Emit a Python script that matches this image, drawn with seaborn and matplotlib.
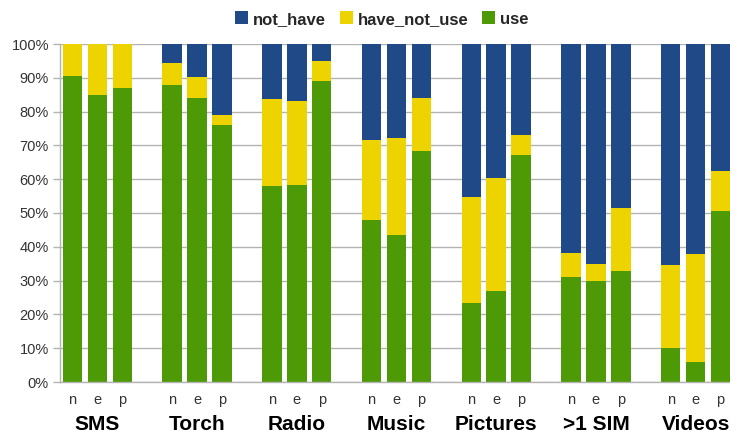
import matplotlib
matplotlib.use("Agg")
import matplotlib.pyplot as plt
import matplotlib.transforms as mtransforms
from matplotlib.patches import Patch
import seaborn as sns
import pandas as pd

groups = ["SMS", "Torch", "Radio", "Music", "Pictures", ">1 SIM", "Videos"]
subs = ["n", "e", "p"]
use = [90.5, 85.0, 87.0, 88.0, 84.1, 76.1, 57.9, 58.4, 89.0, 47.8, 43.5, 68.2,
       23.5, 26.8, 67.3, 31.2, 29.8, 32.7, 10.2, 6.0, 50.5]
have_not_use = [9.5, 15.0, 13.0, 6.3, 6.0, 3.0, 25.7, 24.8, 6.0, 23.9, 28.8, 15.9,
                31.2, 33.6, 5.9, 7.1, 5.0, 18.9, 24.5, 31.8, 11.8]
not_have = [0.0, 0.0, 0.0, 5.7, 9.9, 20.9, 16.4, 16.8, 5.0, 28.3, 27.7, 15.9,
            45.3, 39.6, 26.8, 61.7, 65.2, 48.4, 65.3, 62.2, 37.7]

colors = {"not_have": "#204a87", "have_not_use": "#edd400", "use": "#4e9a06"}

sns.set_theme(style="white")
plt.rcParams["font.family"] = ["Liberation Sans", "DejaVu Sans"]

# slot order with empty gap slots between groups
order = []
for gi, g in enumerate(groups):
    for s in subs:
        order.append(f"{g}|{s}")
    if gi < len(groups) - 1:
        order.append(f"gap{gi}")

rows = []
i = 0
for g in groups:
    for s in subs:
        rows.append({"slot": f"{g}|{s}", "use": use[i],
                     "use_hnu": use[i] + have_not_use[i],
                     "total": use[i] + have_not_use[i] + not_have[i]})
        i += 1
df = pd.DataFrame(rows)

fig = plt.figure(figsize=(7.3, 4.32), dpi=100)
ax = fig.add_axes([60 / 730, 1 - 382 / 432, 673 / 730, 338 / 432])

for col, c in [("total", colors["not_have"]), ("use_hnu", colors["have_not_use"]),
               ("use", colors["use"])]:
    sns.barplot(data=df, x="slot", y=col, order=order, color=c, saturation=1,
                width=0.78, ax=ax, errorbar=None, edgecolor="none", linewidth=0)

ax.set_ylim(0, 100)
ax.set_xlim(-0.5, len(order) - 0.5)
ax.set_yticks(range(0, 101, 10))
ax.set_yticklabels([f"{v}%" for v in range(0, 101, 10)], fontsize=10.5, color="#333333")
ax.yaxis.grid(True, color="#b3b3b3", linewidth=1)
ax.set_axisbelow(True)
ax.set_xlabel("")
ax.set_ylabel("")

xt = [k for k, o in enumerate(order) if not o.startswith("gap")]
ax.set_xticks(xt)
ax.set_xticklabels([order[k].split("|")[1] for k in xt], fontsize=10.5, color="#333333")
ax.set_xticks([k - 0.5 for k in range(len(order) + 1)], minor=True)
ax.tick_params(axis="x", which="major", length=0, pad=8)
ax.tick_params(axis="x", which="minor", length=5, color="#b3b3b3", width=1)
ax.tick_params(axis="y", length=5, color="#b3b3b3", width=1, pad=3, left=True)

for side in ["top", "right"]:
    ax.spines[side].set_visible(False)
for side in ["left", "bottom"]:
    ax.spines[side].set_color("#b3b3b3")
    ax.spines[side].set_linewidth(1)

trans = mtransforms.blended_transform_factory(ax.transData, fig.transFigure)
for gi, g in enumerate(groups):
    ax.text(gi * 4 + 1, 1 - 424 / 432, g, transform=trans, ha="center", va="center",
            fontsize=15, fontweight="bold", color="#000000")

handles = [Patch(facecolor=colors[k], edgecolor="none", label=k)
           for k in ["not_have", "have_not_use", "use"]]
fig.legend(handles=handles, loc="center", bbox_to_anchor=(382 / 730, 1 - 19 / 432),
           ncol=3, frameon=False, prop={"weight": "bold", "size": 12},
           handlelength=0.8, handleheight=0.8, handletextpad=0.3, columnspacing=0.8)

fig.savefig("out.png", dpi=100)
